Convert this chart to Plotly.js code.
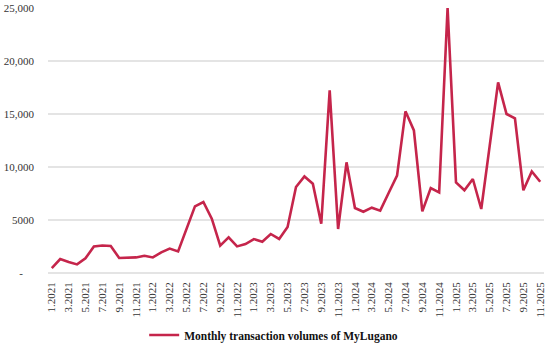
<!DOCTYPE html>
<html>
<head>
<meta charset="utf-8">
<script src="https://cdn.plot.ly/plotly-3.0.1.min.js"></script>
<style>html,body{margin:0;padding:0;background:#fff;}#chart{width:550px;height:346px;}</style>
</head>
<body>
<div id="chart"></div>
<script>
const months = [
  "1.2021","2.2021","3.2021","4.2021","5.2021","6.2021","7.2021","8.2021","9.2021","10.2021","11.2021","12.2021",
  "1.2022","2.2022","3.2022","4.2022","5.2022","6.2022","7.2022","8.2022","9.2022","10.2022","11.2022","12.2022",
  "1.2023","2.2023","3.2023","4.2023","5.2023","6.2023","7.2023","8.2023","9.2023","10.2023","11.2023","12.2023",
  "1.2024","2.2024","3.2024","4.2024","5.2024","6.2024","7.2024","8.2024","9.2024","10.2024","11.2024","12.2024",
  "1.2025","2.2025","3.2025","4.2025","5.2025","6.2025","7.2025","8.2025","9.2025","10.2025","11.2025"
];
const volumes = [
  470,1320,1040,810,1380,2510,2600,2550,1420,1470,1470,1630,
  1470,1950,2300,2040,4170,6290,6700,5120,2580,3360,2510,2730,
  3200,2950,3680,3210,4340,8110,9110,8420,4650,17230,4150,10440,
  6130,5780,6160,5880,7550,9180,15250,13450,5810,8020,7600,25000,
  8550,7800,8870,6040,12000,17980,15000,14590,7800,9590,8610
];
const xTickLabels = ["1.2021","3.2021","5.2021","7.2021","9.2021","11.2021","1.2022","3.2022","5.2022","7.2022","9.2022","11.2022",
  "1.2023","3.2023","5.2023","7.2023","9.2023","11.2023","1.2024","3.2024","5.2024","7.2024","9.2024","11.2024",
  "1.2025","3.2025","5.2025","7.2025","9.2025","11.2025"];
const yTickVals = [0,5000,10000,15000,20000,25000];
const yTickText = ["-\u00a0\u00a0\u00a0\u00a0","5000","10,000","15,000","20,000","25,000"];
const seriesName = "Monthly transaction volumes of MyLugano";

const trace = {
  x: months, y: volumes, type: "scatter", mode: "lines",
  name: "<b>" + seriesName + "</b>",
  line: {color: "#C5254B", width: 2.6}
};
const layout = {
  width: 550, height: 346,
  margin: {l: 48, r: 6, t: 8, b: 73, autoexpand: false},
  paper_bgcolor: "#fff", plot_bgcolor: "#fff",
  font: {family: "Liberation Serif, serif", size: 11, color: "#333"},
  showlegend: true,
  legend: {orientation: "h", x: 0.455, xanchor: "center", y: -0.234, yanchor: "middle",
           itemwidth: 30,
           font: {family: "Liberation Serif, serif", size: 11.5, color: "#111"}},
  xaxis: {type: "category", range: [-0.45, 58.45], tickvals: xTickLabels, ticktext: xTickLabels,
          tickangle: -90, showgrid: false, zeroline: false, showline: false, ticks: "", automargin: false,
          ticklabelstandoff: 6, tickfont: {size: 11, color: "#333"}},
  yaxis: {range: [0, 25000], tickvals: yTickVals, ticktext: yTickText, showgrid: true, automargin: false,
          gridcolor: "#e4e4e4", gridwidth: 1.5, zeroline: true, zerolinecolor: "#e4e4e4", zerolinewidth: 1.5,
          showline: false, ticks: "", ticklabelstandoff: 13, tickfont: {size: 11, color: "#333"}}
};
Plotly.newPlot("chart", [trace], layout, {displayModeBar: false, staticPlot: true});
</script>
</body>
</html>
